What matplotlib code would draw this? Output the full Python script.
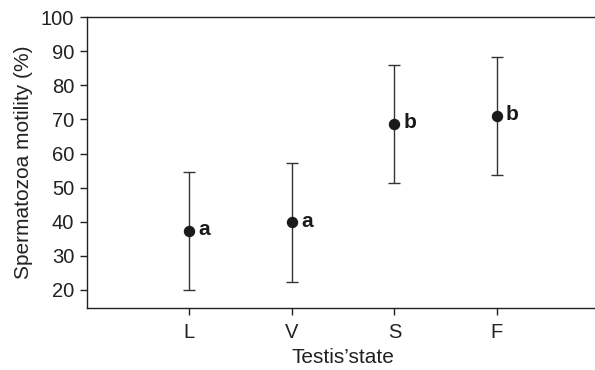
import matplotlib.pyplot as plt

plt.rcParams['font.family'] = ['Liberation Sans', 'DejaVu Sans']

# Data
states = ['L', 'V', 'S', 'F']
motility_mean = [37.3, 39.8, 68.7, 71.0]
motility_err = [17.4, 17.4, 17.4, 17.4]
groups = ['a', 'a', 'b', 'b']

x = range(1, len(states) + 1)

fig = plt.figure(figsize=(5.95, 3.7), dpi=100)
ax = fig.add_axes([0.146, 0.1676, 0.8613, 0.786])

ax.errorbar(x, motility_mean, yerr=motility_err, fmt='o', color='#1a1a1a',
            ecolor='#333333', elinewidth=1.0, capsize=4, capthick=1.0, markersize=7.2)

for xi, yi, g in zip(x, motility_mean, groups):
    ax.text(xi + 0.09, yi + 0.4, g, fontsize=15, fontweight='bold', va='center', ha='left', color='#1a1a1a')

ax.set_xlim(0, 5)
ax.set_ylim(14.7, 100)
ax.set_xticks(list(x))
ax.set_xticklabels(states)
ax.set_yticks(range(20, 101, 10))

ax.spines['right'].set_visible(False)
for s in ['left', 'bottom', 'top']:
    ax.spines[s].set_linewidth(1.0)
    ax.spines[s].set_color('#222222')

ax.tick_params(axis='both', direction='out', length=5, width=1.0, labelsize=14.5, colors='#222222')
ax.tick_params(axis='x', pad=6)
ax.tick_params(axis='y', pad=4)
ax.set_xlabel('Testis\u2019state', fontsize=15, color='#222222', labelpad=4)
ax.set_ylabel('Spermatozoa motility (%)', fontsize=15, color='#222222', labelpad=6)

plt.savefig('out.png', dpi=100)
